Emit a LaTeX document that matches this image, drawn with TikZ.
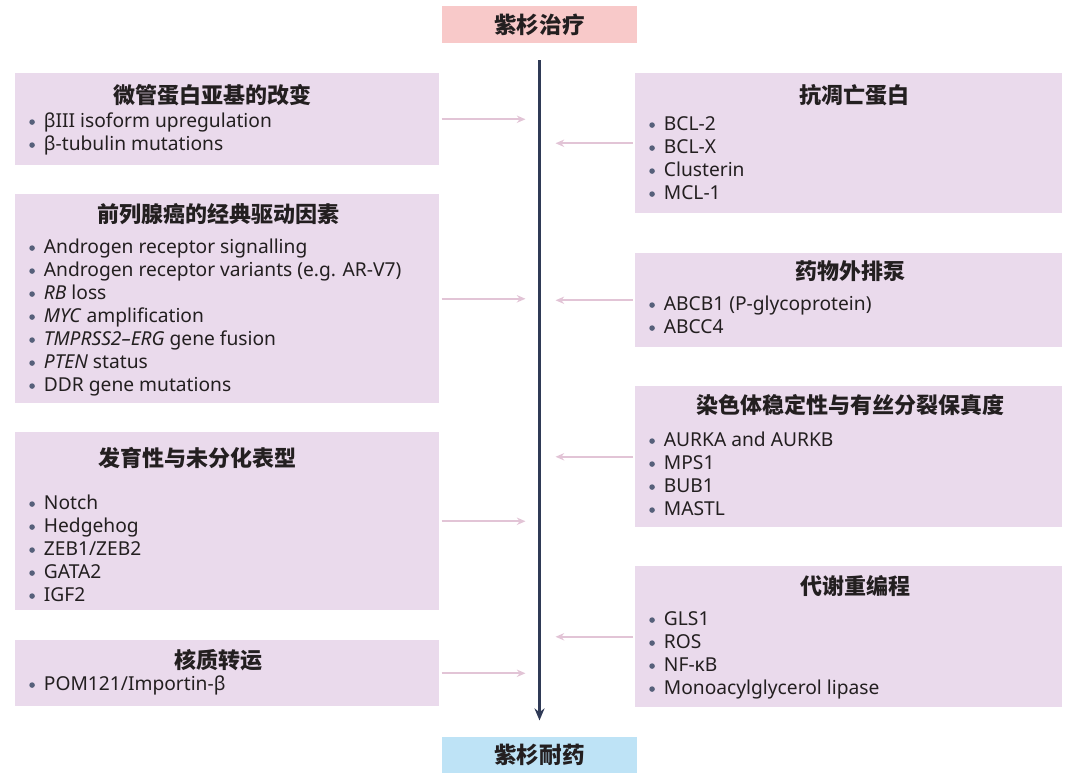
\documentclass[tikz,border=0pt]{standalone}
\usepackage{fontspec}
\setmainfont{Noto Sans}
\newfontfamily\cjk{Noto Sans CJK SC}
\usepackage{xcolor}
\usetikzlibrary{positioning,arrows.meta}

\definecolor{panelfill}{HTML}{EADAEC}
\definecolor{toppink}{HTML}{F8C9C9}
\definecolor{botblue}{HTML}{BEE3F6}
\definecolor{spinecol}{HTML}{2F3A56}
\definecolor{feedcol}{HTML}{E2C4D6}
\definecolor{inkcol}{HTML}{231F20}
\definecolor{dotcol}{HTML}{56607A}

\newcommand{\bul}{\makebox[11pt][l]{\tikz[baseline=0pt]\fill[dotcol] (2.1pt,3.7pt) circle (2.1pt);}}

\begin{document}
\begin{tikzpicture}[x=0.75pt, y=-0.75pt,
    every node/.style={text=inkcol},
    panel/.style={fill=panelfill, inner sep=0, anchor=north west, minimum width=318pt},
    rpanel/.style={panel, minimum width=320.25pt},
    endbox/.style={inner sep=0, minimum width=146.25pt, minimum height=27.5pt, font=\cjk\bfseries\fontsize{17}{20}\selectfont},
    head/.style={font=\cjk\bfseries\fontsize{16.5}{20}\selectfont, inner sep=0},
    items/.style={font=\fontsize{14.4}{17.25}\selectfont, align=left, inner sep=0, anchor=base west},
    feed/.style={draw=feedcol, line width=1.4pt, -{Stealth[length=6.5pt,width=5.5pt]}},
    spine/.style={draw=spinecol, line width=1.9pt, -{Stealth[length=9pt,width=7.5pt]}}]
    \useasboundingbox (0,0) rectangle (1080,775);

    % start and end
    \node[endbox, fill=toppink] (taxol) at (539.5,24.5) {紫杉治疗};
    \node[endbox, fill=botblue] (resist) at (539.5,755) {紫杉耐药};
    \draw[spine, shorten <=12.75pt, shorten >=12pt] (taxol.south) -- (resist.north);

    % left panels (item nodes sit on the baseline of their last line)
    \node[panel, minimum height=69pt] (l1) at (15,73) {};
    \node[head] (l1head) at (212,95) {微管蛋白亚基的改变};
    \node[items] (l1items) at (29,150) {\bul βIII isoform upregulation\\ \bul β-tubulin mutations};

    \node[panel, minimum height=156.75pt] (l2) at (15,194) {};
    \node[head] (l2head) at (218,214) {前列腺癌的经典驱动因素};
    \node[items] (l2items) at (29,391) {\bul Androgen receptor signalling\\
        \bul Androgen receptor variants (e.g. AR-V7)\\
        \bul \textit{RB} loss\\
        \bul \textit{MYC} amplification\\
        \bul \textit{TMPRSS2–ERG} gene fusion\\
        \bul \textit{PTEN} status\\
        \bul DDR gene mutations};

    \node[panel, minimum height=133.5pt] (l3) at (15,432) {};
    \node[head] (l3head) at (197,458) {发育性与未分化表型};
    \node[items] (l3items) at (29,601) {\bul Notch\\ \bul Hedgehog\\ \bul ZEB1/ZEB2\\ \bul GATA2\\ \bul IGF2};

    \node[panel, minimum height=49.5pt] (l4) at (15,640) {};
    \node[head] (l4head) at (218,660) {核质转运};
    \node[items] (l4items) at (29,690) {\bul POM121/Importin-β};

    % right panels
    \node[rpanel, minimum height=105pt] (r1) at (635,73) {};
    \node[head] (r1head) at (854,95) {抗凋亡蛋白};
    \node[items] (r1items) at (649,199) {\bul BCL-2\\ \bul BCL-X\\ \bul Clusterin\\ \bul MCL-1};

    \node[rpanel, minimum height=70.5pt] (r2) at (635,253) {};
    \node[head] (r2head) at (850,271) {药物外排泵};
    \node[items] (r2items) at (649,333) {\bul ABCB1 (P-glycoprotein)\\ \bul ABCC4};

    \node[rpanel, minimum height=105.75pt] (r3) at (635,386) {};
    \node[head] (r3head) at (850,405) {染色体稳定性与有丝分裂保真度};
    \node[items] (r3items) at (649,515) {\bul AURKA and AURKB\\ \bul MPS1\\ \bul BUB1\\ \bul MASTL};

    \node[rpanel, minimum height=105.75pt] (r4) at (635,566) {};
    \node[head] (r4head) at (855,586) {代谢重编程};
    \node[items] (r4items) at (649,694) {\bul GLS1\\ \bul ROS\\ \bul NF-κB\\ \bul Monoacylglycerol lipase};

    % feeds into the spine
    \foreach \p in {l1,l2,l3,l4}
        \draw[feed, shorten <=1.5pt, shorten >=10.5pt] (\p.east) -- (\p.east -| taxol.south);
    \foreach \p in {r1,r2,r3,r4}
        \draw[feed, shorten <=1.5pt, shorten >=12pt] (\p.west) -- (\p.west -| taxol.south);
\end{tikzpicture}
\end{document}
